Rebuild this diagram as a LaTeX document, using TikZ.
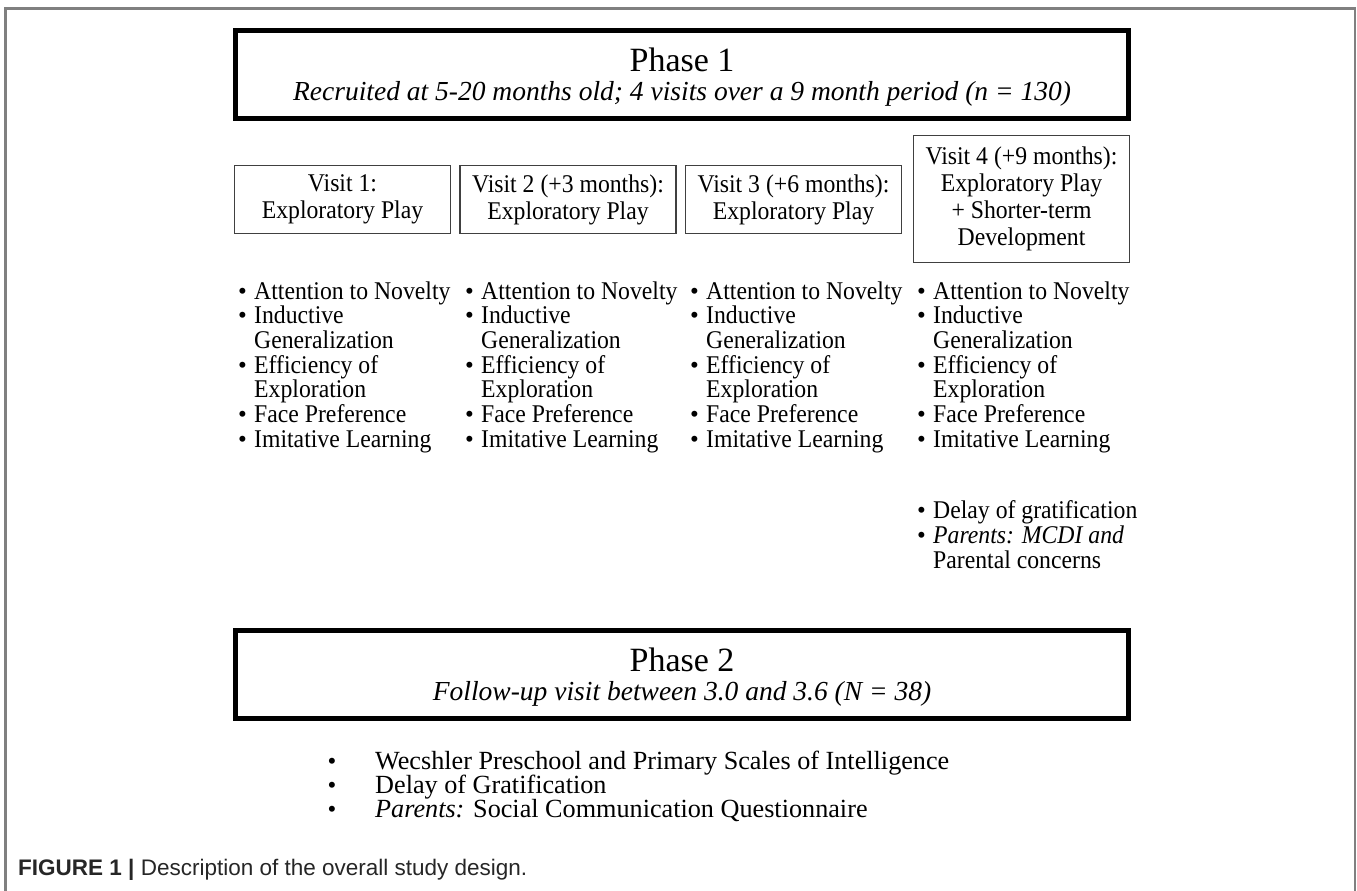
\documentclass[tikz,border=0pt]{standalone}
\usepackage{fontspec}
\setmainfont{Liberation Serif}
\newfontfamily\listfont[FakeStretch=0.93]{Liberation Serif}
\newfontfamily\capfont{Liberation Sans}
\begin{document}
\begin{tikzpicture}[x=1pt,y=-1pt,
  frame/.style={draw=black!50, line width=2.5pt},
  phasebox/.style={draw=black, line width=5pt, minimum width=893pt, minimum height=88pt, inner sep=0pt},
  visitbox/.style={draw=black!75, line width=1.6pt, align=center, inner sep=0pt, minimum width=216pt,
    font=\listfont\fontsize{25.5}{27}\selectfont},
  item/.style={anchor=base west, inner sep=0pt, font=\listfont\fontsize{25.5}{26}\selectfont},
  bul/.style={anchor=base, inner sep=0pt, font=\fontsize{25}{26}\selectfont},
  pitem/.style={anchor=base west, inner sep=0pt, font=\fontsize{26.2}{26}\selectfont},
  ptitle/.style={anchor=base, inner sep=0pt, font=\fontsize{34}{34}\selectfont},
  psub/.style={anchor=base, inner sep=0pt, font=\fontsize{27.5}{27.5}\selectfont\itshape},
  caption/.style={anchor=base west, inner sep=0pt, text=black!85, font=\capfont\fontsize{22.5}{22.5}\selectfont},
]
\useasboundingbox (0,0) rectangle (1357,891);
% outer frame (open at the bottom)
\draw[frame] (5.5,891) -- (5.5,8.5) -- (1355,8.5) -- (1355,891);

% Phase 1
\node[phasebox] (p1) at (682,74.5) {};
\node[ptitle] (p1t) at (682,71) {Phase 1};
\node[psub] (p1s) at (682,100) {Recruited at 5-20 months old; 4 visits over a 9 month period (n = 130)};

% visit boxes
\node[visitbox, minimum height=68pt] (v1) at (342.5,199.5) {Visit 1:\\Exploratory Play};
\node[visitbox, minimum height=68pt] (v2) at (568,199.5) {Visit 2 (+3 months):\\Exploratory Play};
\node[visitbox, minimum height=68pt] (v3) at (793.5,199.5) {Visit 3 (+6 months):\\Exploratory Play};
\node[visitbox, minimum height=127pt] (v4) at (1021.5,199) {Visit 4 (+9 months):\\Exploratory Play\\+ Shorter-term\\Development};

% bullet lists
\foreach \c/\x in {1/254,2/481,3/706,4/933}{
  \foreach \r/\t/\b in {0/Attention to Novelty/1, 1/Inductive/1, 2/Generalization/0,
      3/Efficiency of/1, 4/Exploration/0, 5/Face Preference/1, 6/Imitative Learning/1}{
    \node[item] (c\c r\r) at ({\x},{299+24.7*\r}) {\t};
    \ifnum\b=1 \node[bul] (b\c r\r) at ({\x-11.5},{299+24.7*\r}) {\textbullet}; \fi
  }
}
\node[item] (c4x1) at (933,518) {Delay of gratification};
\node[bul] (b4x1) at (921.5,518) {\textbullet};
\node[item] (c4x2) at (933,543) {\textit{Parents: MCDI and}};
\node[bul] (b4x2) at (921.5,543) {\textbullet};
\node[item] (c4x3) at (933,568) {Parental concerns};

% Phase 2
\node[phasebox] (p2) at (682,674.5) {};
\node[ptitle] (p2t) at (682,671) {Phase 2};
\node[psub] (p2s) at (682,700) {Follow-up visit between 3.0 and 3.6 (N = 38)};

\node[bul] (q1b) at (332,769) {\textbullet};
\node[pitem] (q1) at (375,769) {Wecshler Preschool and Primary Scales of Intelligence};
\node[bul] (q2b) at (332,793) {\textbullet};
\node[pitem] (q2) at (375,793) {Delay of Gratification};
\node[bul] (q3b) at (332,817) {\textbullet};
\node[pitem] (q3) at (375,817) {\textit{Parents:} Social Communication Questionnaire};

% caption
\node[caption] (cap) at (18,875) {\textbf{FIGURE 1 |} Description of the overall study design.};
\end{tikzpicture}
\end{document}
